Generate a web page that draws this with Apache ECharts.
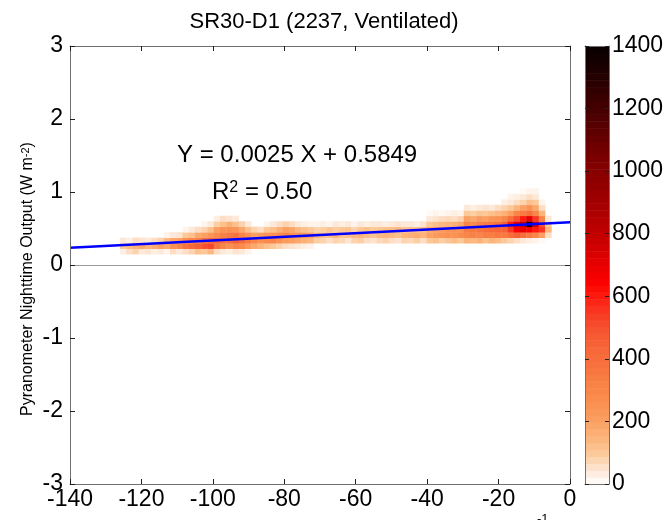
<!DOCTYPE html>
<html>
<head>
<meta charset="utf-8">
<script src="https://cdn.jsdelivr.net/npm/echarts@6/dist/echarts.min.js"></script>
<style>
  html, body { margin: 0; padding: 0; background: #fff; }
  #chart { width: 667px; height: 520px; }
</style>
</head>
<body>
<div id="chart"></div>
<script>
// 2-D histogram: 80 x 80 bins over [-140, 0] x [-3, 3]
const binX0 = -140, binW = 1.75;
const binY0 = -3, binH = 0.075;

// per column: bin index, first row index, counts going up
const colIndex = [8, 9, 10, 11, 12, 13, 14, 15, 16, 17, 18, 19, 20, 21, 22, 23, 24, 25, 26, 27, 28,
  29, 30, 31, 32, 33, 34, 35, 36, 37, 38, 39, 40, 41, 42, 43, 44, 45, 46, 47, 48, 49, 50, 51, 52,
  53, 54, 55, 56, 57, 58, 59, 60, 61, 62, 63, 64, 65, 66, 67, 68, 69, 70, 71, 72, 73, 74, 75, 76];
const colRow0 = [42, 42, 42, 42, 42, 42, 42, 42, 42, 42, 42, 42, 42, 42, 42, 42, 42, 42, 42, 42, 42,
  43, 43, 43, 43, 43, 43, 43, 43, 43, 43, 44, 44, 44, 44, 44, 44, 44, 44, 44, 44, 44, 44, 44, 44,
  44, 44, 44, 44, 44, 44, 44, 44, 44, 44, 44, 44, 44, 44, 44, 44, 44, 44, 44, 44, 44, 44, 44, 44];
const colCounts = [
  [30, 100, 40], [60, 140, 30], [80, 160, 60], [40, 180, 50], [50, 150, 40], [30, 170, 60],
  [40, 200, 80], [20, 180, 140, 20], [60, 260, 180, 40], [40, 300, 200, 50],
  [60, 380, 260, 100, 20], [80, 420, 300, 120, 40], [120, 460, 320, 180, 60],
  [100, 500, 380, 200, 80, 20], [140, 520, 420, 240, 120, 40], [60, 380, 440, 280, 200, 90, 30],
  [40, 300, 400, 320, 240, 120, 60], [30, 260, 420, 360, 260, 160, 50], [50, 300, 460, 380, 240, 120, 40],
  [40, 280, 420, 300, 180, 80], [20, 220, 360, 260, 120, 40],
  [180, 300, 200, 80], [150, 260, 220, 60], [120, 280, 240, 100, 20], [100, 300, 260, 120, 40],
  [80, 260, 280, 160, 60], [60, 220, 300, 200, 80], [50, 200, 260, 180, 60], [40, 180, 240, 140, 40],
  [30, 160, 220, 120, 30], [20, 140, 200, 100, 20],
  [90, 140, 80, 20], [80, 120, 90, 30], [60, 130, 110, 20], [80, 150, 90, 40], [70, 110, 100, 30],
  [50, 120, 110, 40], [80, 140, 80, 20], [90, 150, 100, 40], [60, 130, 120, 30], [50, 110, 100, 40],
  [70, 140, 110, 40], [80, 150, 120, 30], [60, 140, 130, 40], [50, 120, 140, 50], [80, 150, 110, 40],
  [70, 160, 130, 40], [90, 170, 120, 30], [60, 150, 140, 50],
  [100, 200, 180, 100, 40, 10], [120, 220, 200, 120, 50, 20], [90, 240, 220, 140, 60, 10],
  [110, 260, 240, 150, 70, 20], [130, 250, 260, 160, 60, 30], [100, 280, 250, 180, 80, 20],
  [150, 300, 350, 300, 200, 100, 40], [140, 320, 360, 280, 180, 90, 30], [160, 300, 380, 320, 220, 110, 40],
  [120, 340, 400, 340, 200, 100, 50], [150, 330, 420, 360, 240, 120, 40], [130, 360, 440, 380, 260, 140, 60],
  [100, 350, 450, 450, 300, 160, 80, 30], [80, 400, 550, 600, 400, 200, 100, 40, 20],
  [60, 450, 650, 700, 500, 300, 150, 60, 30], [40, 400, 700, 800, 600, 350, 200, 80, 40, 10],
  [30, 350, 650, 1300, 700, 400, 250, 120, 60, 20], [20, 300, 600, 750, 550, 300, 180, 100, 40, 20],
  [10, 200, 550, 500, 300, 150, 60, 20], [0, 60, 150, 100, 40]
];

// least-squares fit  Y = 0.0025 X + 0.5849
const fitX = [-140, 0];
const fitY = [0.2349, 0.5849];

const cbarMax = 1400, cbarLevels = 64;
const heatColors = [
  '#ffffff', '#fde4d0', '#fcc898', '#fcb47a', '#fba062', '#fa9254', '#f98648', '#f87a42',
  '#f76e3c', '#f66236', '#f65030', '#f83822', '#fe1a0e', '#fa0000', '#e80000', '#d40000',
  '#c20000', '#b20000', '#a20000', '#940000', '#880000', '#780000', '#680000', '#560000',
  '#440000', '#340000', '#240000', '#160000', '#080000'
];

const font = 'Liberation Sans, Arial, sans-serif';

const heatData = [];
colIndex.forEach((ci, k) => {
  colCounts[k].forEach((c, m) => {
    if (c > 0) heatData.push([binX0 + ci * binW, binY0 + (colRow0[k] + m) * binH, c]);
  });
});

const cbarStep = cbarMax / cbarLevels;
const cbarData = [];
for (let k = 0; k < cbarLevels; k++) {
  cbarData.push([k * cbarStep, (k + 1) * cbarStep, (k + 0.5) * cbarStep]);
}

const chart = echarts.init(document.getElementById('chart'));

const frameAxis = (extra) => Object.assign({
  axisLine: { show: true, onZero: false, lineStyle: { color: '#707070', width: 1 } },
  axisTick: { show: true, inside: true, length: 5, lineStyle: { color: '#202020' } },
  splitLine: { show: false },
  z: 10
}, extra);

const plain = (v) => String(v);

chart.setOption({
  animation: false,
  backgroundColor: '#fff',
  textStyle: { fontFamily: font },
  title: {
    text: 'SR30-D1 (2237, Ventilated)',
    left: 319, top: 6, textAlign: 'center',
    textStyle: { fontFamily: font, fontSize: 22, fontWeight: 'normal', color: '#000' }
  },
  grid: [
    { left: 70, right: 97, top: 46, bottom: 36 },
    { left: 585, right: 58, top: 46, bottom: 36 }
  ],
  visualMap: {
    type: 'continuous', show: false, min: 0, max: cbarMax, dimension: 2,
    seriesIndex: [0, 2], inRange: { color: heatColors }
  },
  xAxis: [
    frameAxis({ type: 'value', gridIndex: 0, position: 'bottom', min: -140, max: 0, interval: 20,
      axisLabel: { color: '#000', fontSize: 23, margin: 4, formatter: plain, showMinLabel: true, showMaxLabel: true } }),
    frameAxis({ type: 'value', gridIndex: 0, position: 'top', min: -140, max: 0, interval: 20,
      axisLabel: { show: false } }),
    frameAxis({ type: 'value', gridIndex: 1, position: 'bottom', min: 0, max: 1,
      axisTick: { show: false }, axisLabel: { show: false } }),
    frameAxis({ type: 'value', gridIndex: 1, position: 'top', min: 0, max: 1,
      axisTick: { show: false }, axisLabel: { show: false } })
  ],
  yAxis: [
    frameAxis({ type: 'value', gridIndex: 0, position: 'left', min: -3, max: 3, interval: 1,
      axisLabel: { color: '#000', fontSize: 23, margin: 7, formatter: plain, showMinLabel: true, showMaxLabel: true } }),
    frameAxis({ type: 'value', gridIndex: 0, position: 'right', min: -3, max: 3, interval: 1,
      axisLabel: { show: false } }),
    frameAxis({ type: 'value', gridIndex: 1, position: 'right', min: 0, max: cbarMax, interval: 200,
      axisTick: { show: true, inside: true, length: 4, lineStyle: { color: '#202020' } },
      axisLabel: { color: '#000', fontSize: 23, margin: 3, formatter: plain, showMinLabel: true, showMaxLabel: true } }),
    frameAxis({ type: 'value', gridIndex: 1, position: 'left', min: 0, max: cbarMax, interval: 200,
      axisTick: { show: true, inside: true, length: 4, lineStyle: { color: '#202020' } },
      axisLabel: { show: false } })
  ],
  graphic: [
    {
      type: 'text', left: 177, top: 143,
      style: { text: 'Y = 0.0025 X + 0.5849', font: '24px ' + font, fill: '#000' }
    },
    {
      type: 'text', left: 212, top: 180,
      style: {
        text: 'R{sup|2} = 0.50', font: '24px ' + font, fill: '#000',
        rich: { sup: { fontSize: 16, verticalAlign: 'top', fontFamily: font } }
      }
    },
    {
      type: 'text', x: 28, y: 279, rotation: Math.PI / 2,
      style: {
        text: 'Pyranometer Nighttime Output (W m{sup|-2})', font: '16px ' + font, fill: '#000',
        align: 'center', verticalAlign: 'middle',
        rich: { sup: { fontSize: 11, verticalAlign: 'top', fontFamily: font } }
      }
    },
    {
      // superscript of the x-axis name, the rest falls below the picture
      type: 'text', left: 537, top: 513,
      style: { text: '-1', font: '13px ' + font, fill: '#000' }
    }
  ],
  series: [
    {
      type: 'custom', xAxisIndex: 0, yAxisIndex: 0, data: heatData,
      encode: { x: 0, y: 1 },
      renderItem: (params, api) => {
        const p0 = api.coord([api.value(0), api.value(1) + binH]);
        const p1 = api.coord([api.value(0) + binW, api.value(1)]);
        return {
          type: 'rect',
          shape: { x: p0[0], y: p0[1], width: p1[0] - p0[0] + 0.4, height: p1[1] - p0[1] + 0.4 },
          style: { fill: api.visual('color') }
        };
      }
    },
    {
      type: 'line', xAxisIndex: 0, yAxisIndex: 0,
      data: fitX.map((x, i) => [x, fitY[i]]),
      symbol: 'none', lineStyle: { color: '#0000ff', width: 2.5 },
      markLine: {
        silent: true, symbol: 'none', label: { show: false },
        lineStyle: { color: '#9a9a9a', type: 'solid', width: 1 },
        data: [{ yAxis: 0 }]
      },
      z: 3
    },
    {
      type: 'custom', xAxisIndex: 2, yAxisIndex: 2, data: cbarData,
      encode: { y: [0, 1] },
      renderItem: (params, api) => {
        const p0 = api.coord([0, api.value(1)]);
        const p1 = api.coord([1, api.value(0)]);
        return {
          type: 'rect',
          shape: { x: p0[0], y: p0[1], width: p1[0] - p0[0], height: p1[1] - p0[1] + 0.5 },
          style: { fill: api.visual('color') }
        };
      }
    }
  ]
});
</script>
</body>
</html>
